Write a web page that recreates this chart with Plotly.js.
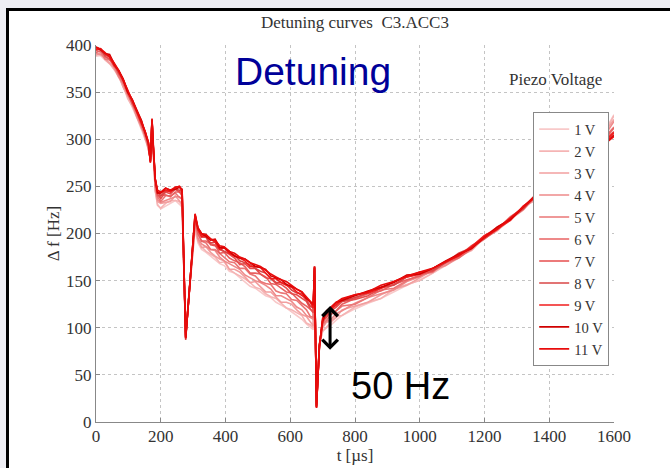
<!DOCTYPE html>
<html><head><meta charset="utf-8">
<script src="https://cdn.plot.ly/plotly-3.0.1.min.js"></script>
<style>
html,body{margin:0;padding:0;background:#eeeef4;}
body{width:670px;height:468px;overflow:hidden;position:relative;}
#frame{position:absolute;left:6px;top:8px;width:700px;height:500px;background:#fff;border-left:3px solid #000;border-top:3px solid #000;}
#chart{position:absolute;left:0;top:0;width:670px;height:468px;}
</style></head>
<body><div id="frame"></div><div id="chart"></div>
<script>
const t_us = [0,14,28,42,56,70,84,98,112,126,140,152,162,168,173,177,183,190,
200,215,230,245,258,266,271,277,286,296,
306,315,326,340,354,368,382,396,412,428,444,460,476,492,508,524,540,556,572,588,604,620,636,650,662,
671,675,681,690,700,712,726,742,
760,800,840,880,920,960,1000,1040,1080,1120,1160,1200,1240,1280,1320,1360,1400,1440,1480,1520,1560,1600];

const df_1V = [388,389,384,380,374,366,356,344,334,323,311,300,289,281,315,286,245,231,
226,229,232,235,231,228,165,92,130,172,
205,190,183,180,176,173,168,166,160,158,153,149,144,142,138,134,132,127,124,121,117,113,109,104,100,
98,160,20,82,97,100,103,108,
113,120,126,131,138,145,151,158,166,174,183,195,204,215,227,238,250,262,273,285,302,326];
const df_2V = [391,389,386,381,374,369,357,343,335,325,314,300,291,281,315,288,246,230,
227,232,235,235,234,229,164,94,130,170,
206,192,186,181,178,175,169,170,162,158,155,152,148,143,141,136,133,131,126,121,119,116,113,105,103,
100,161,20,82,96,101,106,112,
113,122,127,131,141,146,150,158,167,176,182,196,204,214,229,238,248,262,274,287,300,325];
const df_3V = [389,392,385,381,376,368,355,346,338,324,312,304,290,279,317,288,246,234,
232,233,234,240,235,231,167,92,128,173,
210,193,185,186,180,176,173,171,162,162,159,154,148,149,143,138,138,133,127,127,125,119,114,112,106,
102,161,18,81,100,106,107,111,
119,123,127,135,141,145,153,161,167,174,185,195,203,216,228,236,250,264,273,283,302,321];
const df_4V = [391,390,387,385,376,366,359,347,338,324,314,302,292,281,317,286,251,236,
233,235,237,239,239,236,167,89,130,173,
212,195,189,186,183,182,175,171,168,165,162,156,153,150,148,145,141,134,134,131,128,122,119,113,111,
109,163,19,83,102,107,109,115,
118,126,132,136,140,149,154,161,166,175,183,196,206,215,225,240,250,263,272,284,298,319];
const df_5V = [394,393,385,384,379,368,359,349,337,328,316,305,290,278,320,288,251,239,
234,240,240,243,238,237,169,90,129,174,
212,200,192,190,183,183,179,175,170,169,163,163,157,155,149,147,146,139,137,136,130,129,124,119,112,
111,162,17,80,104,108,114,118,
123,125,132,140,142,150,156,159,170,176,185,194,205,218,227,239,252,261,275,285,298,313];
const df_6V = [392,394,390,387,378,372,361,348,341,328,314,305,295,279,319,291,253,240,
240,241,239,244,244,242,167,91,129,173,
217,200,192,192,189,188,179,180,174,171,169,165,158,158,157,154,147,146,142,138,137,131,126,123,119,
117,164,18,81,104,114,115,118,
125,131,136,139,146,151,155,163,169,174,184,197,207,215,229,239,250,264,272,281,296,312];
const df_7V = [395,396,388,385,380,371,363,350,338,329,317,308,293,276,321,290,257,242,
237,244,242,247,244,240,170,90,131,174,
215,203,196,196,188,187,183,181,178,174,167,168,163,163,157,153,152,147,146,142,136,135,131,128,120,
116,163,16,82,107,111,118,122,
128,130,134,142,146,154,157,160,170,176,187,195,204,217,228,242,251,260,273,283,297,308];
const df_8V = [398,395,389,388,380,370,363,352,340,329,320,307,294,277,321,289,257,245,
240,245,246,247,246,244,169,87,129,176,
218,204,199,196,190,191,184,181,179,177,171,169,167,163,160,158,153,148,148,146,140,137,136,129,123,
121,165,17,79,109,114,119,126,
128,132,137,143,145,154,159,161,169,179,185,195,206,216,226,241,252,261,272,284,294,305];
const df_9V = [395,396,392,387,378,373,362,350,342,329,317,308,297,276,319,292,257,243,
243,246,244,249,250,244,167,90,128,174,
220,204,197,198,194,191,183,185,179,176,174,171,165,165,164,158,152,152,148,145,143,138,134,131,127,
121,164,15,80,108,117,120,124,
130,135,137,142,149,154,157,163,170,176,186,198,205,214,229,240,250,263,272,281,294,307];
const df_10V = [398,395,391,390,380,373,364,350,342,331,320,307,296,277,321,292,258,243,
243,248,246,247,249,247,169,89,129,173,
220,206,200,197,193,194,185,185,181,176,174,173,169,165,164,162,155,153,151,146,144,141,138,131,127,
125,165,16,81,107,117,122,127,
129,134,139,143,148,156,157,163,171,178,184,196,207,215,228,241,249,262,273,283,292,304];
const df_11V = [397,396,391,388,381,373,363,352,342,330,319,308,296,275,322,292,258,246,
244,248,246,249,250,246,170,89,128,175,
221,206,200,199,194,193,187,186,181,179,175,173,169,167,165,161,157,154,151,149,145,141,138,133,128,
124,165,15,80,110,118,122,127,
131,135,138,145,149,155,159,163,170,177,185,196,205,216,228,240,251,262,272,282,292,303];

const voltageLabels = ['1 V','2 V','3 V','4 V','5 V','6 V','7 V','8 V','9 V','10 V','11 V'];
const series = [df_1V,df_2V,df_3V,df_4V,df_5V,df_6V,df_7V,df_8V,df_9V,df_10V,df_11V];
const lineColors = ['#f8c9c9','#f5b4b4','#f29f9f','#ee8a8a','#ea7676','#e86262','#e64e4e','#d84646','#f01c1c','#d00000','#e80c0c'];

const serif = 'Liberation Serif, Times New Roman, serif';
const sans = 'Liberation Sans, Arial, sans-serif';

const traces = series.map((ys, i) => ({
  x: t_us, y: ys, type: 'scatter', mode: 'lines', name: voltageLabels[i],
  line: {color: lineColors[i], width: 1.6}
}));

const layout = {
  width: 670, height: 468,
  margin: {l: 96, r: 56, t: 45, b: 46},
  paper_bgcolor: 'rgba(0,0,0,0)', plot_bgcolor: '#fff',
  font: {family: serif, size: 17, color: '#333'},
  title: {text: 'Detuning curves\u00a0\u00a0C3.ACC3', x: 0.5, xref: 'paper', y: 0.953, yanchor: 'middle',
          font: {family: serif, size: 17, color: '#333'}},
  xaxis: {range: [0, 1600], tick0: 0, dtick: 200, showgrid: true, gridcolor: '#c4c4c4', griddash: 'dot',
          showline: true, linecolor: '#888', linewidth: 1, ticks: 'inside', ticklen: 4, tickcolor: '#888',
          ticklabelstandoff: -1,
          zeroline: false, tickfont: {family: serif, size: 17, color: '#333'},
          title: {text: 't [µs]', standoff: 0, font: {family: serif, size: 17, color: '#333'}}},
  yaxis: {range: [0, 400], tick0: 0, dtick: 50, showgrid: true, gridcolor: '#c4c4c4', griddash: 'dot',
          showline: true, linecolor: '#888', linewidth: 1, ticks: 'inside', ticklen: 4, tickcolor: '#888',
          ticklabelstandoff: 0,
          zeroline: false, tickfont: {family: serif, size: 17, color: '#333'},
          title: {text: 'Δ f [Hz]', standoff: 2, font: {family: serif, size: 17, color: '#333'}}},
  showlegend: true,
  legend: {x: 0.844, y: 0.822, xanchor: 'left', yanchor: 'top', bgcolor: '#fff', bordercolor: '#888',
           borderwidth: 1, font: {family: serif, size: 14.6, color: '#333'}, itemwidth: 30, tracegroupgap: 0},
  annotations: [
    {x: 670, y: 372, xref: 'x', yref: 'y', text: 'Detuning', showarrow: false, xanchor: 'center', yanchor: 'middle',
     font: {family: sans, size: 39, color: '#000099'}},
    {x: 939, y: 38, xref: 'x', yref: 'y', text: '50 Hz', showarrow: false, xanchor: 'center', yanchor: 'middle',
     font: {family: sans, size: 38, color: '#000'}},
    {x: 1419, y: 363, xref: 'x', yref: 'y', text: 'Piezo Voltage', showarrow: false, xanchor: 'center', yanchor: 'middle',
     font: {family: serif, size: 17, color: '#333'}},
    {x: 723, y: 123, ax: 723, ay: 75, xref: 'x', yref: 'y', axref: 'x', ayref: 'y', text: '', showarrow: true,
     arrowhead: 4, startarrowhead: 4, arrowside: 'end+start', arrowwidth: 3, arrowsize: 1, startarrowsize: 1, arrowcolor: '#000'}
  ]
};

Plotly.newPlot('chart', traces, layout, {staticPlot: true, displayModeBar: false});
</script></body></html>
